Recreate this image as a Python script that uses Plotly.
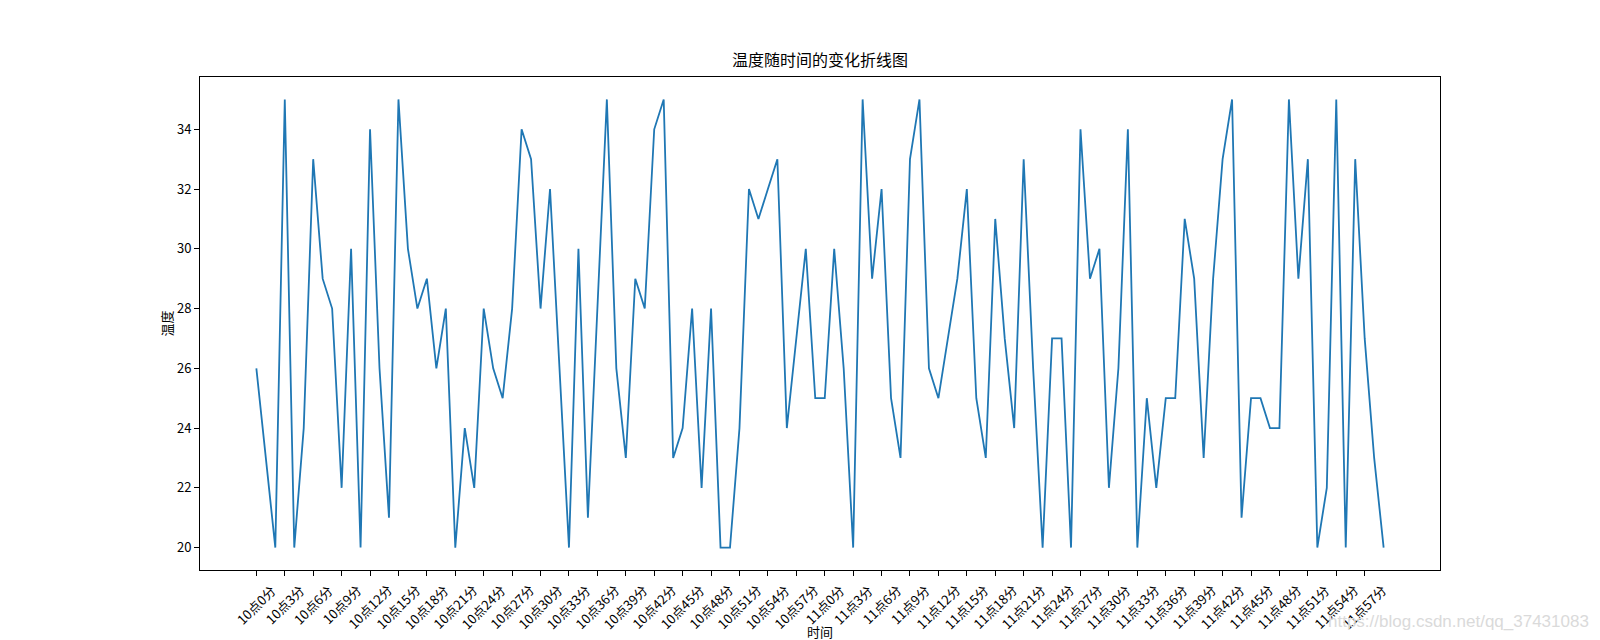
import plotly.graph_objects as go

hours = [10, 11]
minutes = list(range(60))
time_labels = [f"{h}点{m}分" for h in hours for m in minutes]

temperatures = [
    26, 23, 20, 35, 20, 24, 33, 29, 28, 22,
    30, 20, 34, 26, 21, 35, 30, 28, 29, 26,
    28, 20, 24, 22, 28, 26, 25, 28, 34, 33,
    28, 32, 26, 20, 30, 21, 28, 35, 26, 23,
    29, 28, 34, 35, 23, 24, 28, 22, 28, 20,
    20, 24, 32, 31, 32, 33, 24, 27, 30, 25,
    25, 30, 26, 20, 35, 29, 32, 25, 23, 33,
    35, 26, 25, 27, 29, 32, 25, 23, 31, 27,
    24, 33, 26, 20, 27, 27, 20, 34, 29, 30,
    22, 26, 34, 20, 25, 22, 25, 25, 31, 29,
    23, 29, 33, 35, 21, 25, 25, 24, 24, 35,
    29, 33, 20, 22, 35, 20, 33, 27, 23, 20,
]

tick_labels = time_labels[::3]
y_ticks = [20, 22, 24, 26, 28, 30, 32, 34]

title_text = "温度随时间的变化折线图"
x_title = "时间"
y_title = "温度"
watermark = "https://blog.csdn.net/qq_37431083"

FONT = "Noto Sans CJK SC"
TICK_SIZE = 13

fig = go.Figure()
fig.add_trace(go.Scatter(
    x=time_labels, y=temperatures, mode="lines",
    line=dict(color="#1f77b4", width=1.8),
    showlegend=False, hoverinfo="x+y",
))

n = len(time_labels)
margin_x = 0.05 * (n - 1)
ymin, ymax = min(temperatures), max(temperatures)
margin_y = 0.05 * (ymax - ymin)

fig.update_xaxes(
    type="category",
    range=[-margin_x, n - 1 + margin_x],
    tickvals=tick_labels, ticktext=[""] * len(tick_labels),
    ticks="outside", ticklen=5, tickwidth=1, tickcolor="black",
    showline=True, linecolor="black", linewidth=1, mirror=True,
    showgrid=False, zeroline=False,
)
fig.update_yaxes(
    range=[ymin - margin_y, ymax + margin_y],
    tickvals=y_ticks,
    ticks="outside", ticklen=5, tickwidth=1, tickcolor="black",
    showline=True, linecolor="black", linewidth=1, mirror=True,
    showgrid=False, zeroline=False,
    tickfont=dict(family=FONT, size=TICK_SIZE, color="black"),
)

annotations = []
for lab in tick_labels:
    annotations.append(dict(
        x=lab, xref="x", y=0, yref="paper", yshift=-8,
        text=lab, textangle=-45, showarrow=False,
        xanchor="center", yanchor="top",
        font=dict(family=FONT, size=TICK_SIZE, color="black"),
    ))
annotations.append(dict(
    x=0.5, xref="paper", y=0, yref="paper", yshift=-50,
    text=x_title, showarrow=False, xanchor="center", yanchor="top",
    font=dict(family=FONT, size=TICK_SIZE, color="black"),
))
annotations.append(dict(
    x=0, xref="paper", y=0.5, yref="paper", xshift=-34,
    text=y_title, textangle=-90, showarrow=False,
    xanchor="center", yanchor="middle",
    font=dict(family=FONT, size=TICK_SIZE, color="black"),
))
annotations.append(dict(
    x=0.5, xref="paper", y=1, yref="paper", yshift=4,
    text=title_text, showarrow=False, xanchor="center", yanchor="bottom",
    font=dict(family=FONT, size=16, color="black"),
))
annotations.append(dict(
    x=1, xref="paper", y=0, yref="paper", xshift=151, yshift=-51,
    text=watermark, showarrow=False, xanchor="right", yanchor="middle",
    font=dict(family="Liberation Sans", size=17, color="#dadada"),
))

fig.update_layout(
    width=1600, height=640,
    margin=dict(l=200, r=160, t=77, b=70),
    paper_bgcolor="white", plot_bgcolor="white",
    annotations=annotations,
)

fig.write_html(
    "out.html",
    config={"displayModeBar": False},
    post_script="document.body.style.margin='0';document.body.style.padding='0';",
)
